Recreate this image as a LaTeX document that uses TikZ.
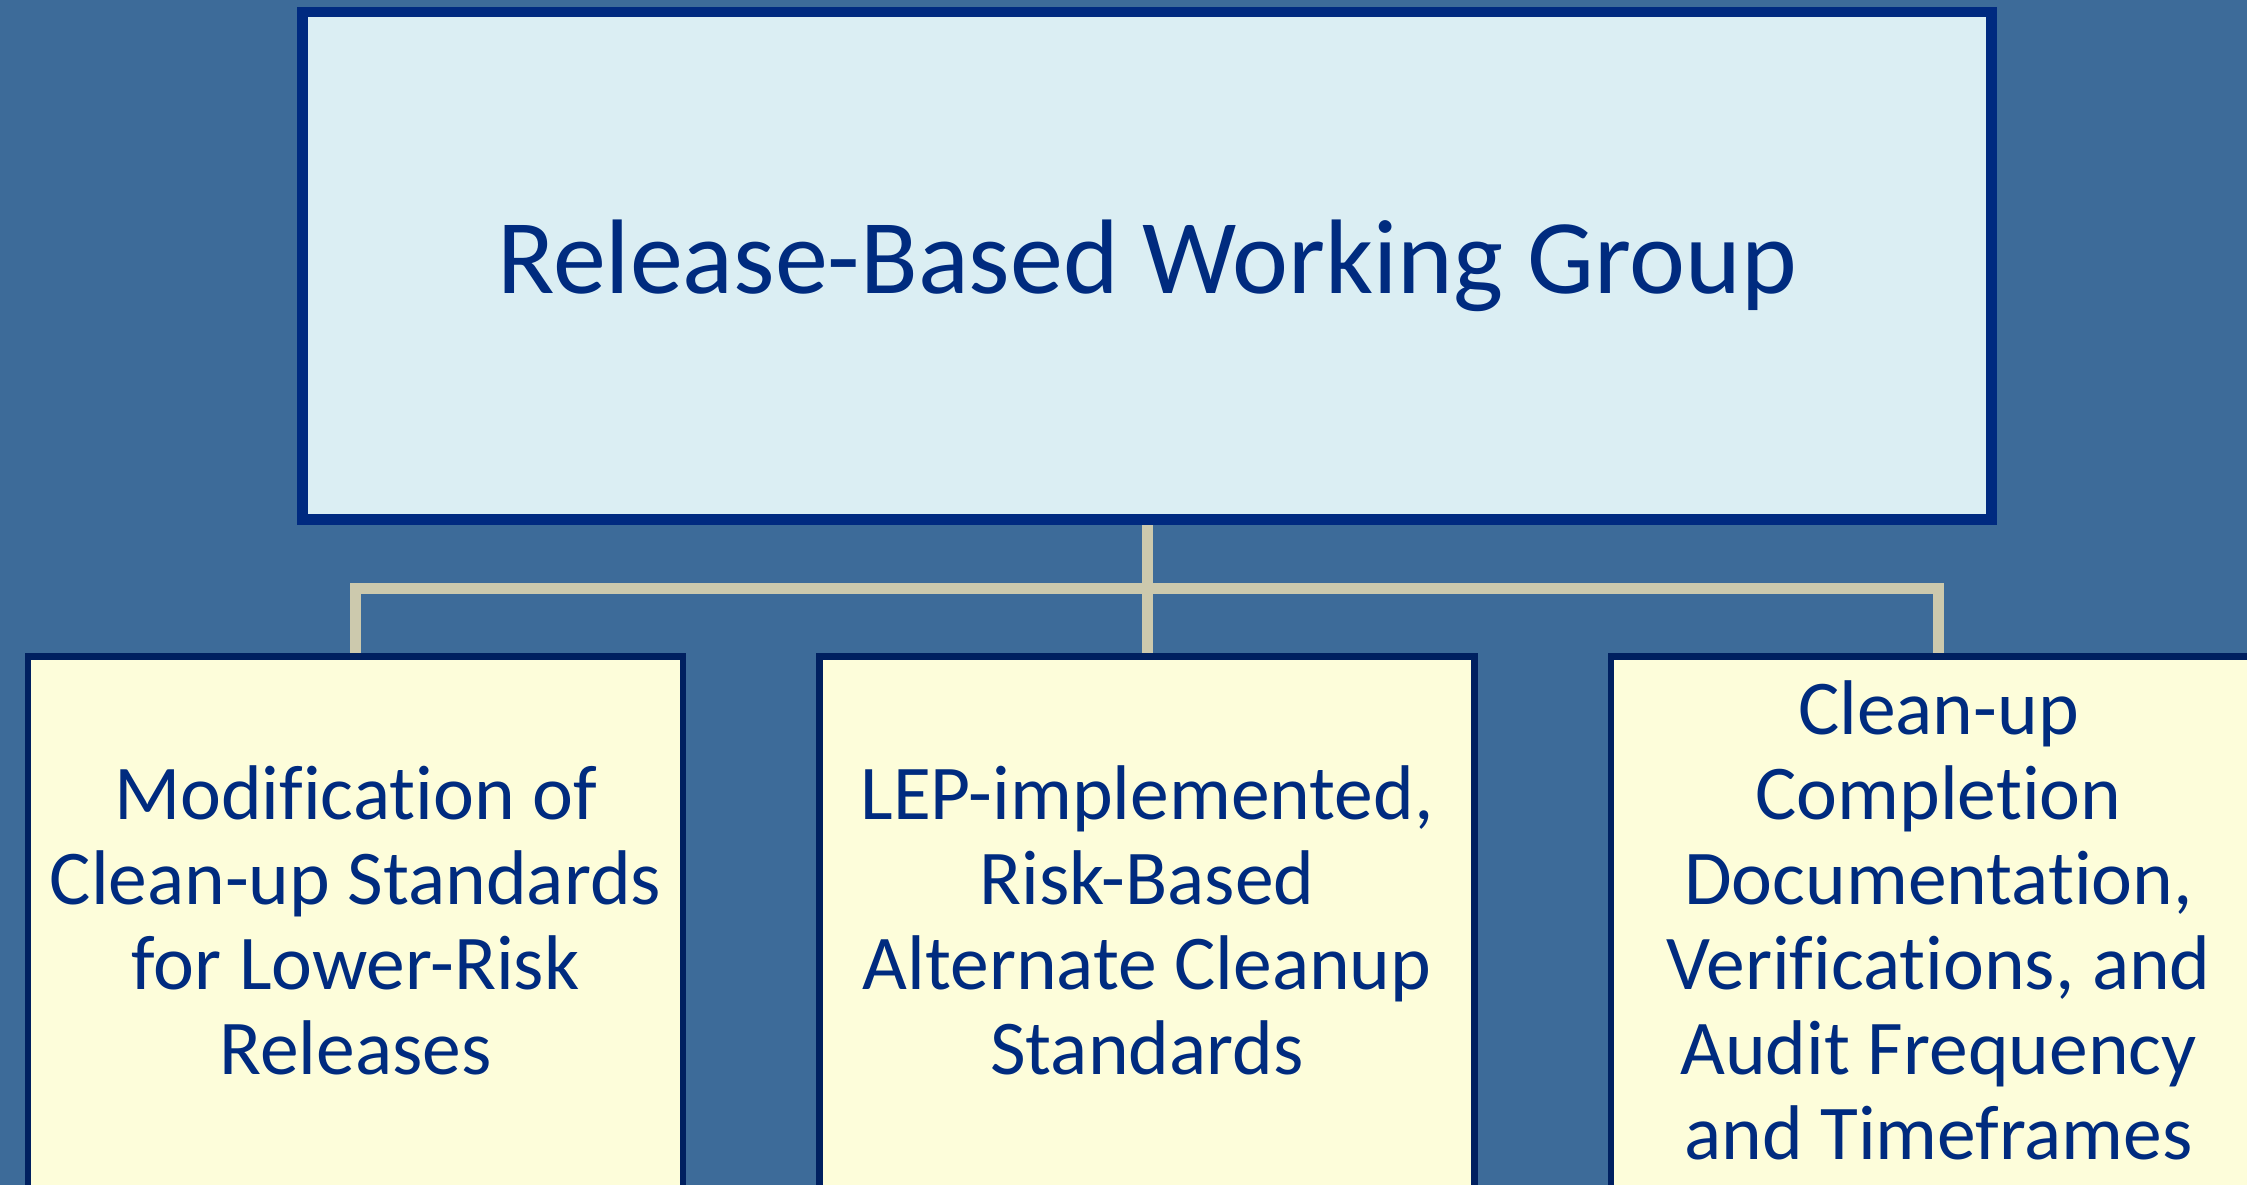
\documentclass[tikz,border=0pt]{standalone}
\usepackage{fontspec}
\setmainfont[Ligatures={NoCommon}]{Carlito}
\definecolor{bgblue}{HTML}{3D6B99}
\definecolor{topfill}{HTML}{DBEEF3}
\definecolor{topdraw}{HTML}{002A80}
\definecolor{subfill}{HTML}{FDFDDA}
\definecolor{subdraw}{HTML}{002060}
\definecolor{connc}{HTML}{CCC9AD}
\definecolor{txt}{HTML}{002B7F}
\pgfdeclarelayer{back}
\pgfsetlayers{back,main}
\tikzset{
  topbox/.style={draw=topdraw, fill=topfill, line width=10.5pt, minimum width=1689pt, minimum height=507.5pt, inner sep=0pt, text=txt, font=\fontsize{106}{117}\selectfont},
  subbox/.style={draw=subdraw, fill=subfill, line width=6.5pt, minimum width=655pt, minimum height=547pt, inner sep=0pt, text=txt, align=center, font=\fontsize{77.5}{85}\selectfont},
  conn/.style={draw=connc, line width=11pt, line join=miter}
}
\begin{document}
\begin{tikzpicture}[x=1pt,y=-1pt]
\useasboundingbox (0,0) rectangle (2247,1185);
\node[topbox] (top) at (1147,265.75) {Release-Based Working Group};
\node[subbox] (left) at (355.5,930) {\strut Modification of\\\strut Clean-up Standards\\\strut for Lower-Risk\\\strut Releases};
\node[subbox] (mid) at (1147,930) {\strut LEP-implemented,\\\strut Risk-Based\\\strut Alternate Cleanup\\\strut Standards};
\node[subbox] (right) at (1938.5,930) {\strut Clean-up\\\strut Completion\\\strut Documentation,\\\strut Verifications, and\\\strut Audit Frequency\\\strut and Timeframes};
\coordinate (bus) at (1147,588.5);
\begin{pgfonlayer}{back}
\fill[bgblue] (0,0) rectangle (2247,1185);
\draw[conn] (top.south) -- (mid.north);
\draw[conn] (left.north) |- (bus) -| (right.north);
\end{pgfonlayer}
\end{tikzpicture}
\end{document}
